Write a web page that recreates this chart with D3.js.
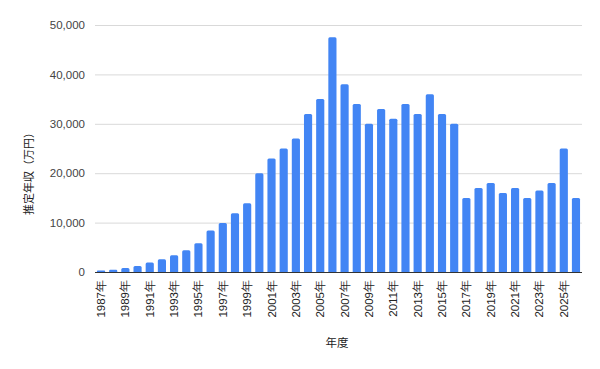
<!DOCTYPE html>
<html>
<head>
<meta charset="utf-8">
<script src="https://cdn.jsdelivr.net/npm/d3@7"></script>
<style>
  body { margin: 0; background: #fff; }
  svg { display: block; font-family: Roboto, Arial, "Noto Sans CJK JP", sans-serif; }
</style>
</head>
<body>
<div class="chart"></div>
<script>
// data
const years = d3.range(1987, 2027).map(String);
const income = [
  300, 450, 800, 1200, 1900, 2600, 3400, 4400, 5800, 8400,
  9900, 11900, 13900, 20000, 23000, 25000, 27000, 32000, 35000, 47500,
  38000, 34000, 30000, 33000, 31000, 34000, 32000, 36000, 32000, 30000,
  15000, 17000, 18000, 16000, 17000, 15000, 16500, 18000, 25000, 15000
];
const yTicks = [0, 10000, 20000, 30000, 40000, 50000];
const yTitle = "推定年収（万円）";
const xTitle = "年度";

const width = 600, height = 369;
const margin = { top: 25, right: 18, bottom: 97, left: 95 };

const svg = d3.select(".chart").append("svg")
  .attr("width", width)
  .attr("height", height);

const x = d3.scaleBand()
  .domain(years)
  .range([margin.left, width - margin.right])
  .paddingInner(0.33)
  .paddingOuter(0.16);

const y = d3.scaleLinear()
  .domain([0, 50000])
  .range([height - margin.bottom, margin.top]);

// gridlines
svg.append("g")
  .selectAll("line")
  .data(yTicks.slice(1))
  .join("line")
  .attr("x1", margin.left)
  .attr("x2", width - margin.right)
  .attr("y1", d => y(d) + 0.5)
  .attr("y2", d => y(d) + 0.5)
  .attr("stroke", "#d9d9d9");

// y labels
const yAxis = svg.append("g")
  .attr("transform", `translate(${margin.left - 7},0)`)
  .call(d3.axisLeft(y).tickValues(yTicks).tickSize(0).tickFormat(d3.format(",")));
yAxis.select(".domain").remove();
yAxis.selectAll("text")
  .attr("font-size", 11.5)
  .attr("fill", "#444");

// bars
svg.append("g")
  .selectAll("path")
  .data(income)
  .join("path")
  .attr("fill", "#4285f4")
  .attr("d", (d, i) => {
    const x0 = x(years[i]), w = x.bandwidth();
    const top = y(d), bot = y(0), r = Math.min(1.5, (bot - top) / 2);
    return `M${x0},${bot}V${top + r}Q${x0},${top} ${x0 + r},${top}H${x0 + w - r}Q${x0 + w},${top} ${x0 + w},${top + r}V${bot}Z`;
  });

// baseline
svg.append("line")
  .attr("x1", margin.left)
  .attr("x2", width - margin.right)
  .attr("y1", y(0) + 0.5)
  .attr("y2", y(0) + 0.5)
  .attr("stroke", "#333");

// x labels, every other year, rotated
const xAxis = svg.append("g")
  .attr("transform", `translate(0,${y(0)})`)
  .call(d3.axisBottom(x).tickValues(years.filter((d, i) => i % 2 === 0)).tickSize(0).tickFormat(d => d + "年"));
xAxis.select(".domain").remove();
xAxis.selectAll("text")
  .attr("font-size", 11.5)
  .attr("fill", "#222")
  .attr("transform", "rotate(-90)")
  .attr("text-anchor", "end")
  .attr("x", -8)
  .attr("y", 0)
  .attr("dy", "0.35em");

// axis titles
svg.append("text")
  .attr("x", 337)
  .attr("y", 347)
  .attr("text-anchor", "middle")
  .attr("font-size", 11.5)
  .attr("fill", "#222")
  .text(xTitle);

svg.append("text")
  .attr("transform", `translate(29,171) rotate(-90)`)
  .attr("text-anchor", "middle")
  .attr("dy", "0.35em")
  .attr("font-size", 11)
  .attr("fill", "#222")
  .text(yTitle);
</script>
</body>
</html>
